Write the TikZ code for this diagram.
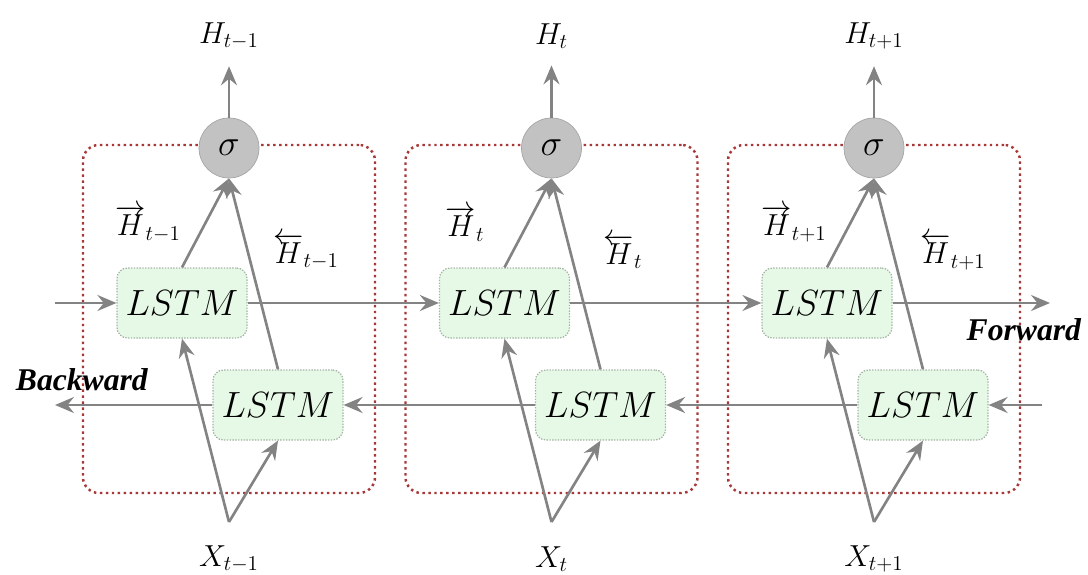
\documentclass[tikz,border=0pt]{standalone}
\usepackage{fontspec}
\setmainfont{Liberation Serif}
\usetikzlibrary{arrows.meta}
\definecolor{cellred}{HTML}{A83838}
\definecolor{lstmgreen}{HTML}{E6F8E6}
\definecolor{lstmedge}{HTML}{A4B4A4}
\definecolor{sigmagray}{HTML}{C2C2C2}
\definecolor{arrowgray}{HTML}{838383}
\tikzstyle{input} = [coordinate]
\tikzstyle{output} = [coordinate]
\tikzstyle{arr} = [draw=arrowgray,line width=1.5pt,-{Stealth[length=3.8mm,width=3.2mm,inset=1.3mm]}]
\tikzstyle{lbl} = [font=\fontsize{18}{20}\selectfont]

\begin{document}
\begin{tikzpicture}
\tikzstyle{cell} = [draw=cellred,line width=1.4pt,dash pattern=on 1.4pt off 2pt,rounded corners=9pt,minimum width=5.84cm,minimum height=6.96cm]
\tikzstyle{lstm} = [draw=lstmedge,line width=0.7pt,dash pattern=on 0.8pt off 0.8pt,fill=lstmgreen,rounded corners=6pt,minimum width=2.6cm,minimum height=1.4cm,font=\fontsize{20}{22}\selectfont]
\tikzstyle{sigma} = [circle,fill=sigmagray,draw=sigmagray!85!black,minimum size=1.2cm,font=\fontsize{22}{24}\selectfont]
\tikzstyle{hout} = [lbl,inner sep=1pt,outer sep=0.3cm]
\useasboundingbox (0,0) rectangle (21.76,11.48);
\node[cell] at (4.58,5.1) (cell1) {};
\node[cell] at (11.03,5.1) (cell2) {};
\node[cell] at (17.48,5.1) (cell3) {};
\node[sigma] at (4.58,8.52) (sig1) {$\sigma$};
\node[sigma] at (11.03,8.52) (sig2) {$\sigma$};
\node[sigma] at (17.48,8.52) (sig3) {$\sigma$};
\node[lstm] at (3.64,5.42) (fw1) {$LSTM$};
\node[lstm] at (10.09,5.42) (fw2) {$LSTM$};
\node[lstm] at (16.54,5.42) (fw3) {$LSTM$};
\node[lstm] at (5.56,3.38) (bw1) {$LSTM$};
\node[lstm] at (12.01,3.38) (bw2) {$LSTM$};
\node[lstm] at (18.46,3.38) (bw3) {$LSTM$};
\node[hout] at (4.58,10.76) (h1) {$H_{t-1}$};
\node[hout] at (11.03,10.76) (h2) {$H_{t}$};
\node[hout] at (17.48,10.76) (h3) {$H_{t+1}$};
\node[lbl] at (4.58,0.3) (x1) {$X_{t-1}$};
\node[lbl] at (11.03,0.3) (x2) {$X_{t}$};
\node[lbl] at (17.48,0.3) (x3) {$X_{t+1}$};
\node[input] at (4.58,1.04) (in1) {};
\node[input] at (11.03,1.04) (in2) {};
\node[input] at (17.48,1.04) (in3) {};
% hidden state labels
\node[lbl] at (2.96,7.0) (fh1) {$\overrightarrow{H}_{t-1}$};
\node[lbl] at (9.3,7.0) (fh2) {$\overrightarrow{H}_{t}$};
\node[lbl] at (15.88,7.0) (fh3) {$\overrightarrow{H}_{t+1}$};
\node[lbl] at (6.12,6.45) (bh1) {$\overleftarrow{H}_{t-1}$};
\node[lbl] at (12.46,6.45) (bh2) {$\overleftarrow{H}_{t}$};
\node[lbl] at (19.06,6.45) (bh3) {$\overleftarrow{H}_{t+1}$};
\node[lbl] at (20.48,4.88) (fwtext) {\textbf{\textit{Forward}}};
\node[lbl] at (1.64,3.88) (bwtext) {\textbf{\textit{Backward}}};
\node[input] at (1.1,5.42) (fin) {};
\node[output] at (21.0,5.42) (fout) {};
\node[input] at (20.84,3.38) (bin) {};
\node[output] at (1.1,3.38) (bout) {};
\foreach \i in {1,2,3}{
    \draw[arr] (sig\i) -- (h\i);
    \draw[arr] (fw\i.north) -- (sig\i.south);
    \draw[arr] (bw\i.north) -- (sig\i.south);
    \draw[arr] (in\i) -- (fw\i.south);
    \draw[arr] (in\i) -- (bw\i.south);
}
\draw[arr] (fin) -- (fw1);
\draw[arr] (fw1) -- (fw2);
\draw[arr] (fw2) -- (fw3);
\draw[arr] (fw3) -- (fout);
\draw[arr] (bin) -- (bw3);
\draw[arr] (bw3) -- (bw2);
\draw[arr] (bw2) -- (bw1);
\draw[arr] (bw1) -- (bout);
\end{tikzpicture}
\end{document}
